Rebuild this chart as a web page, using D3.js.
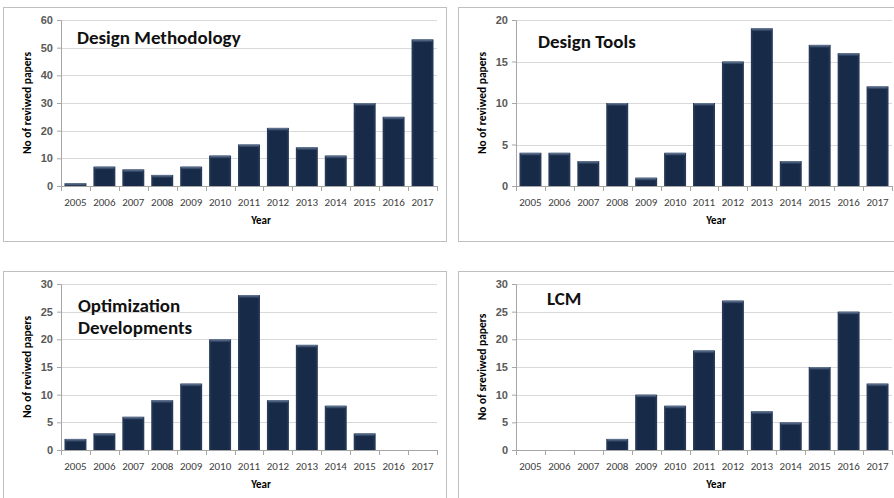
<!DOCTYPE html>
<html>
<head>
<meta charset="utf-8">
<script src="https://cdn.jsdelivr.net/npm/d3@7"></script>
<style>
  body { margin: 0; background: #fff; }
  svg { display: block; font-family: Carlito, Lato, "Open Sans", sans-serif; }
</style>
</head>
<body>
<div id="chart"></div>
<script>
const years = ['2005', '2006', '2007', '2008', '2009', '2010', '2011', '2012', '2013', '2014', '2015', '2016', '2017'];

const methodology = [1, 7, 6, 4, 7, 11, 15, 21, 14, 11, 30, 25, 53];
const tools = [4, 4, 3, 10, 1, 4, 10, 15, 19, 3, 17, 16, 12];
const optimization = [2, 3, 6, 9, 12, 20, 28, 9, 19, 8, 3, 0, 0];
const lcm = [0, 0, 0, 2, 10, 8, 18, 27, 7, 5, 15, 25, 12];

const titles = [['Design Methodology'], ['Design Tools'], ['Optimization', 'Developments'], ['LCM']];
const yMax = [60, 20, 30, 30];
const yStep = [10, 5, 5, 5];
const yLabels = ['No of reviwed papers', 'No of reviwed papers', 'No of reviwed papers', 'No of sreviwed papers'];

const panels = [
  { values: methodology, x: 3, y: 7, titleX: 16, titleY: 24 },
  { values: tools, x: 458, y: 7, titleX: 22, titleY: 28 },
  { values: optimization, x: 3, y: 271, titleX: 17, titleY: 28 },
  { values: lcm, x: 458, y: 271, titleX: 31, titleY: 21 }
];

const margin = { top: 13, left: 58 };
const width = 376;
const height = 166;

const svg = d3.select('#chart').append('svg')
  .attr('width', 894)
  .attr('height', 498);

// bar shading: dark navy body with lighter edges
const defs = svg.append('defs');
const body = defs.append('linearGradient').attr('id', 'barBody')
  .attr('x1', 0).attr('x2', 1).attr('y1', 0).attr('y2', 0);
body.append('stop').attr('offset', '0%').attr('stop-color', '#2c3f5e');
body.append('stop').attr('offset', '12%').attr('stop-color', '#172a48');
body.append('stop').attr('offset', '88%').attr('stop-color', '#172a48');
body.append('stop').attr('offset', '100%').attr('stop-color', '#2c3f5e');
const cap = defs.append('linearGradient').attr('id', 'barCap')
  .attr('x1', 0).attr('x2', 0).attr('y1', 0).attr('y2', 1);
cap.append('stop').attr('offset', '0%').attr('stop-color', '#6b7f9c');
cap.append('stop').attr('offset', '100%').attr('stop-color', '#1c2f4d');

panels.forEach(function (p, i) {
  const g = svg.append('g').attr('transform', 'translate(' + p.x + ',' + p.y + ')');

  // panel frame
  g.append('rect')
    .attr('x', 0.5).attr('y', 0.5)
    .attr('width', 443).attr('height', 234)
    .attr('fill', 'none')
    .attr('stroke', '#bfbfbf');

  const plot = g.append('g').attr('transform', 'translate(' + margin.left + ',' + margin.top + ')');

  const x = d3.scaleBand().domain(years).range([0, width]).paddingInner(0.24).paddingOuter(0.12);
  const y = d3.scaleLinear().domain([0, yMax[i]]).range([height, 0]);
  const ticks = d3.range(0, yMax[i] + 1, yStep[i]);

  // gridlines
  plot.selectAll('.grid')
    .data(ticks.filter(function (t) { return t > 0; }))
    .enter().append('line')
    .attr('x1', 0).attr('x2', width)
    .attr('y1', function (d) { return Math.round(y(d)) + 0.5; })
    .attr('y2', function (d) { return Math.round(y(d)) + 0.5; })
    .attr('stroke', '#d9d9d9');

  // bars
  const bars = plot.selectAll('.bar')
    .data(p.values.map(function (v, k) { return { year: years[k], v: v }; }).filter(function (d) { return d.v > 0; }))
    .enter().append('g');
  bars.append('rect')
    .attr('x', function (d) { return x(d.year); })
    .attr('width', x.bandwidth())
    .attr('y', function (d) { return y(d.v); })
    .attr('height', function (d) { return height - y(d.v); })
    .attr('fill', 'url(#barBody)');
  bars.append('rect')
    .attr('x', function (d) { return x(d.year) + 1; })
    .attr('width', x.bandwidth() - 2)
    .attr('y', function (d) { return y(d.v); })
    .attr('height', function (d) { return Math.min(3, height - y(d.v)); })
    .attr('fill', 'url(#barCap)');

  // y axis
  const yAxis = d3.axisLeft(y).tickValues(ticks).tickSize(4).tickPadding(4);
  const ya = plot.append('g').call(yAxis);
  ya.select('.domain').attr('stroke', '#a6a6a6').attr('d', 'M-4,0.5H0.5V' + height);
  ya.selectAll('.tick line').attr('stroke', '#a6a6a6');
  ya.selectAll('text').attr('fill', '#595959').style('font-size', '11px').style('font-weight', 'bold');

  // x axis with ticks between categories
  const xa = plot.append('g').attr('transform', 'translate(0,' + height + ')');
  xa.append('line').attr('x1', 0).attr('x2', width).attr('y1', 0.5).attr('y2', 0.5).attr('stroke', '#a6a6a6');
  const step = x.step();
  xa.selectAll('.xt')
    .data(d3.range(years.length + 1))
    .enter().append('line')
    .attr('x1', function (k) { return Math.round(k * step) + 0.5; })
    .attr('x2', function (k) { return Math.round(k * step) + 0.5; })
    .attr('y1', 0).attr('y2', 5)
    .attr('stroke', '#a6a6a6');
  xa.selectAll('.xl')
    .data(years)
    .enter().append('text')
    .attr('x', function (d) { return x(d) + x.bandwidth() / 2; })
    .attr('y', 20)
    .attr('text-anchor', 'middle')
    .attr('fill', '#404040')
    .style('font-size', '11px')
    .text(function (d) { return d; });

  // axis titles
  plot.append('text')
    .attr('x', width / 2 + 12)
    .attr('y', height + 38)
    .attr('text-anchor', 'middle')
    .style('font-size', '11px')
    .style('font-weight', 'bold')
    .text('Year');
  plot.append('text')
    .attr('transform', 'translate(-30,' + height / 2 + ') rotate(-90)')
    .attr('text-anchor', 'middle')
    .style('font-size', '11.5px')
    .style('font-weight', 'bold')
    .text(yLabels[i]);

  // chart title inside the plot
  const t = plot.append('text')
    .attr('x', p.titleX)
    .attr('y', p.titleY)
    .style('font-size', '19px')
    .style('font-weight', 'bold')
    .attr('fill', '#111');
  titles[i].forEach(function (line, k) {
    t.append('tspan').attr('x', p.titleX).attr('dy', k === 0 ? 0 : 22).text(line);
  });
});
</script>
</body>
</html>
